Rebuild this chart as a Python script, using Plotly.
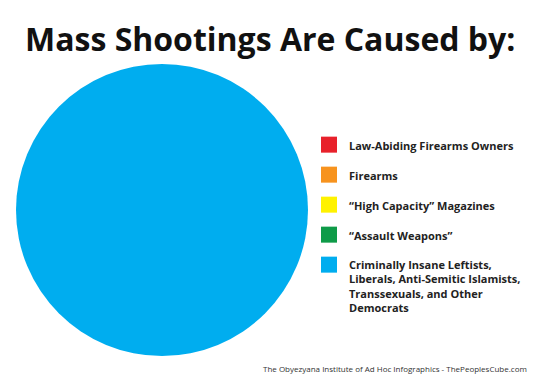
import plotly.graph_objects as go

categories = [
    "Law-Abiding Firearms Owners",
    "Firearms",
    "\u201cHigh Capacity\u201d Magazines",
    "\u201cAssault Weapons\u201d",
    "Criminally Insane Leftists,<br>Liberals, Anti-Semitic Islamists,<br>Transsexuals, and Other<br>Democrats",
]
values = [0, 0, 0, 0, 100]
colors = ["#e8212b", "#f7931e", "#fff200", "#0e9b48", "#00adef"]

fig = go.Figure()
fig.add_trace(go.Pie(
    labels=categories,
    values=values,
    sort=False,
    direction="clockwise",
    marker=dict(colors=colors, line=dict(width=0)),
    textinfo="none",
    hoverinfo="label+percent",
    showlegend=False,
    domain=dict(x=[16/540, 308/540], y=[1-356/384, 1-64/384]),
))

# legend entries (one per category, same colours as the pie)
for i, (lab, col) in enumerate(zip(categories, colors)):
    fig.add_trace(go.Scatter(
        x=[None], y=[None], mode="markers", name=lab, legendgroup=f"g{i}",
        marker=dict(symbol="square", size=16, color=col),
        hoverinfo="skip",
    ))

fig.update_layout(
    width=540, height=384,
    margin=dict(l=0, r=0, t=0, b=0),
    paper_bgcolor="white",
    plot_bgcolor="white",
    xaxis=dict(visible=False),
    yaxis=dict(visible=False),
    showlegend=True,
    legend=dict(
        x=309/540, y=1-131/384, xanchor="left", yanchor="top",
        font=dict(family="Open Sans", size=11, color="#222", weight="bold"),
        traceorder="grouped", tracegroupgap=11, itemwidth=30,
        itemsizing="trace", valign="top",
        bgcolor="rgba(0,0,0,0)",
    ),
    annotations=[
        dict(text="<b>Mass Shootings Are Caused by:</b>", x=0.5, y=1-38/384,
             xref="paper", yref="paper", showarrow=False,
             font=dict(family="Open Sans", size=32, color="#111"),
             xanchor="center", yanchor="middle"),
        dict(text="The Obyezyana Institute of Ad Hoc Infographics - ThePeoplesCube.com",
             x=529/540, y=1-368/384, xref="paper", yref="paper", showarrow=False,
             font=dict(family="Open Sans", size=8, color="#333"),
             xanchor="right", yanchor="middle"),
    ],
)

fig.write_html("out.html")
